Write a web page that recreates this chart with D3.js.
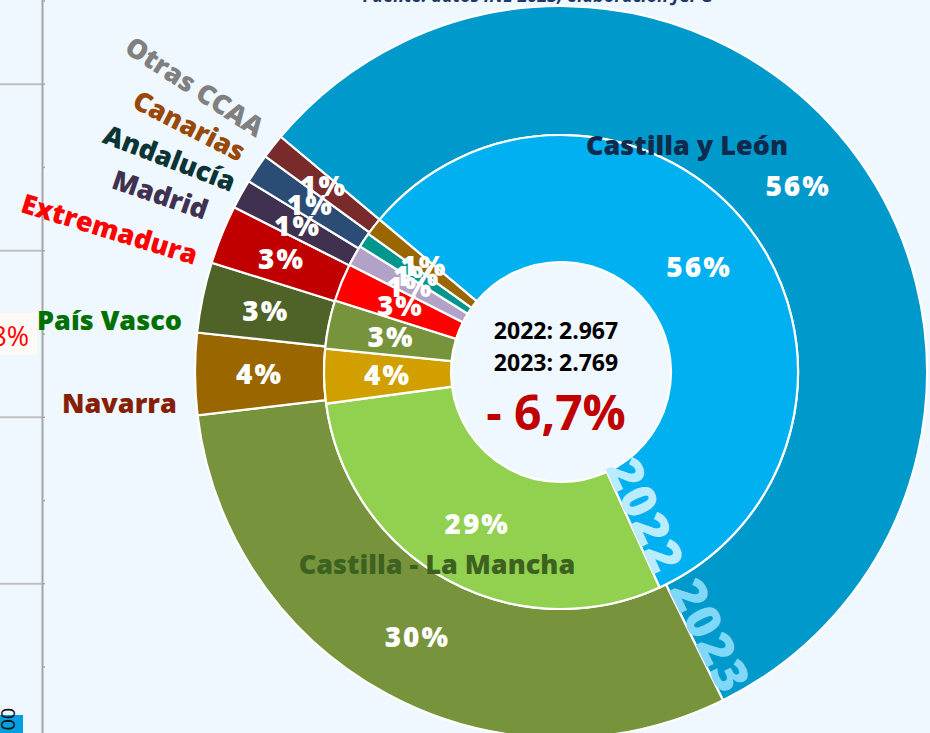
<!DOCTYPE html>
<html>
<head>
<meta charset="utf-8">
<script src="https://cdn.jsdelivr.net/npm/d3@7/dist/d3.min.js"></script>
<style>
  html, body { margin: 0; padding: 0; background: #eff7ff; }
  svg { display: block; }
  text { font-family: "Open Sans", "Noto Sans", sans-serif; }
</style>
</head>
<body>
<script>
// ---------- DATA ----------
const categories = ["Castilla y León", "Castilla - La Mancha", "Navarra", "País Vasco", "Extremadura", "Madrid", "Andalucía", "Canarias"];
const values2022 = [1693, 881, 110, 98, 77, 42, 30, 36];
const values2023 = [1567, 842, 100, 86, 72, 36, 36, 30];
const pctLabels2022 = ["56%", "29%", "4%", "3%", "3%", "1%", "1%", "1%"];
const pctLabels2023 = ["56%", "30%", "4%", "3%", "3%", "1%", "1%", "1%"];
const years = ["2022", "2023"];
const totalLabels = ["2.967", "2.769"];
const changeLabel = "- 6,7%";
const sideLabels = ["Otras CCAA", "Canarias", "Andalucía", "Madrid", "Extremadura", "País Vasco", "Navarra"];
const axisTickValues = [0, 1, 2, 3, 4, 5, 6, 7, 8];
const sourceText = "Fuente: datos INE 2023, elaboración JCPG";

// ---------- STYLE ----------
const colors2022 = ["#00b0f0", "#92d050", "#d29f00", "#77933c", "#ff0000", "#b3a2c7", "#00968c", "#9a6600"];
const colors2023 = ["#0099cc", "#77933c", "#996600", "#4f6228", "#c00000", "#403151", "#2b4c74", "#782b2a"];
const sideColors = ["#808080", "#984807", "#0b3535", "#403151", "#ff0000", "#007000", "#861f06"];

const W = 930, H = 733;
const cx = 561, cy = 372;
const r0 = 110, r1 = 237, r2 = 366;
const startA = -50 * Math.PI / 180;
const BOLD = 800;

const svg = d3.select("body").append("svg").attr("width", W).attr("height", H);
svg.append("rect").attr("width", W).attr("height", H).attr("fill", "#eff7ff");

// ---------- left axis remnants ----------
const yAx = d3.scaleLinear().domain([0, 8]).range([667, 1]);
const axG = svg.append("g");
axG.selectAll("line.grid").data(axisTickValues.filter(d => d % 2 === 1)).join("line")
  .attr("x1", 0).attr("x2", 42).attr("y1", d => yAx(d)).attr("y2", d => yAx(d))
  .attr("stroke", "#bfbfbf").attr("stroke-width", 2);
axG.append("line").attr("x1", 42.5).attr("x2", 42.5).attr("y1", 0).attr("y2", H)
  .attr("stroke", "#a6a6a6").attr("stroke-width", 2);
axG.selectAll("line.tick").data(axisTickValues).join("line")
  .attr("x1", 42).attr("x2", 45).attr("y1", d => yAx(d)).attr("y2", d => yAx(d))
  .attr("stroke", "#a6a6a6").attr("stroke-width", 1.5);

// "8%" remnant
svg.append("rect").attr("x", 0).attr("y", 313).attr("width", 37).attr("height", 42).attr("fill", "#fdfaf6");
svg.append("text").attr("x", 29).attr("y", 346).attr("text-anchor", "end")
  .attr("font-size", 27).attr("fill", "#ff0000").text("8%");
// "100" remnant
svg.append("rect").attr("x", 0).attr("y", 715).attr("width", 23).attr("height", 18).attr("fill", "#00a0e0");
svg.append("text").attr("transform", "translate(15,742) rotate(-90)")
  .attr("font-size", 20).attr("fill", "#111").text("100");

// source text (clipped at top)
svg.append("text").attr("x", 538).attr("y", 2).attr("text-anchor", "middle")
  .attr("font-size", 18).attr("font-style", "italic").attr("font-weight", 700)
  .attr("fill", "#203864").text(sourceText);

// ---------- donut ----------
const pie = d3.pie().sort(null).startAngle(startA).endAngle(startA + 2 * Math.PI);
const arcsIn = pie(values2022);
const arcsOut = pie(values2023);
const arcIn = d3.arc().innerRadius(r0).outerRadius(r1);
const arcOut = d3.arc().innerRadius(r1).outerRadius(r2);

const g = svg.append("g").attr("transform", `translate(${cx},${cy})`);
g.selectAll("path.out").data(arcsOut).join("path").attr("class", "out")
  .attr("d", arcOut).attr("fill", (d, i) => colors2023[i])
  .attr("stroke", "#fff").attr("stroke-width", 2.2);
g.selectAll("path.in").data(arcsIn).join("path").attr("class", "in")
  .attr("d", arcIn).attr("fill", (d, i) => colors2022[i])
  .attr("stroke", "#fff").attr("stroke-width", 2.2);

// year texts along CyL boundary
function yearText(arcD, rc, label, color) {
  const a = arcD.endAngle;
  const deg = a * 180 / Math.PI;
  const x = rc * Math.sin(a), y = -rc * Math.cos(a);
  g.append("text")
    .attr("transform", `translate(${x},${y}) rotate(${deg - 90})`)
    .attr("y", 0).attr("text-anchor", "middle")
    .attr("font-size", 48).attr("font-weight", BOLD).attr("letter-spacing", 2)
    .attr("fill", color).text(label);
}
yearText(arcsIn[0], 166, years[0], "#b9ecff");
yearText(arcsOut[0], 303, years[1], "#7fd8f8");

// percentage labels
const lblArcIn = d3.arc().innerRadius((r0 + r1) / 2).outerRadius((r0 + r1) / 2);
const lblArcOut = d3.arc().innerRadius((r1 + r2) / 2).outerRadius((r1 + r2) / 2);
g.selectAll("text.pin").data(arcsIn).join("text")
  .attr("transform", d => `translate(${lblArcIn.centroid(d)})`)
  .attr("text-anchor", "middle").attr("dy", "0.36em")
  .attr("font-size", 28).attr("font-weight", BOLD).attr("letter-spacing", 2)
  .attr("fill", "#fff").text((d, i) => pctLabels2022[i]);
g.selectAll("text.pout").data(arcsOut).join("text")
  .attr("transform", d => `translate(${lblArcOut.centroid(d)})`)
  .attr("text-anchor", "middle").attr("dy", "0.36em")
  .attr("font-size", 28).attr("font-weight", BOLD).attr("letter-spacing", 2)
  .attr("fill", "#fff").text((d, i) => pctLabels2023[i]);

// center text
svg.append("text").attr("x", 556).attr("y", 339).attr("text-anchor", "middle")
  .attr("font-size", 23).attr("font-weight", 700).attr("fill", "#000")
  .text(years[0] + ": " + totalLabels[0]);
svg.append("text").attr("x", 556).attr("y", 371).attr("text-anchor", "middle")
  .attr("font-size", 23).attr("font-weight", 700).attr("fill", "#000")
  .text(years[1] + ": " + totalLabels[1]);
svg.append("text").attr("x", 556).attr("y", 430).attr("text-anchor", "middle")
  .attr("font-size", 48).attr("font-weight", 700).attr("fill", "#c00000")
  .text(changeLabel);

// category labels
svg.append("text").attr("x", 687).attr("y", 155).attr("text-anchor", "middle")
  .attr("font-size", 27).attr("font-weight", BOLD).attr("fill", "#0f2a4a").text(categories[0]);
svg.append("text").attr("x", 437).attr("y", 574).attr("text-anchor", "middle")
  .attr("font-size", 27).attr("font-weight", BOLD).attr("fill", "#3d6220").text(categories[1]);

const sideLayout = [
  { x: 256, y: 138, rot: 33, anchor: "end" },
  { x: 239, y: 162, rot: 27, anchor: "end" },
  { x: 231, y: 192, rot: 21, anchor: "end" },
  { x: 204, y: 220, rot: 19, anchor: "end" },
  { x: 194, y: 265, rot: 17, anchor: "end" },
  { x: 37, y: 330, rot: 0, anchor: "start" },
  { x: 62, y: 413, rot: 0, anchor: "start" }
];
svg.selectAll("text.side").data(sideLabels).join("text")
  .attr("transform", (d, i) => `translate(${sideLayout[i].x},${sideLayout[i].y}) rotate(${sideLayout[i].rot})`)
  .attr("text-anchor", (d, i) => sideLayout[i].anchor)
  .attr("font-size", 27).attr("font-weight", BOLD)
  .attr("fill", (d, i) => sideColors[i]).text(d => d);
</script>
</body>
</html>
